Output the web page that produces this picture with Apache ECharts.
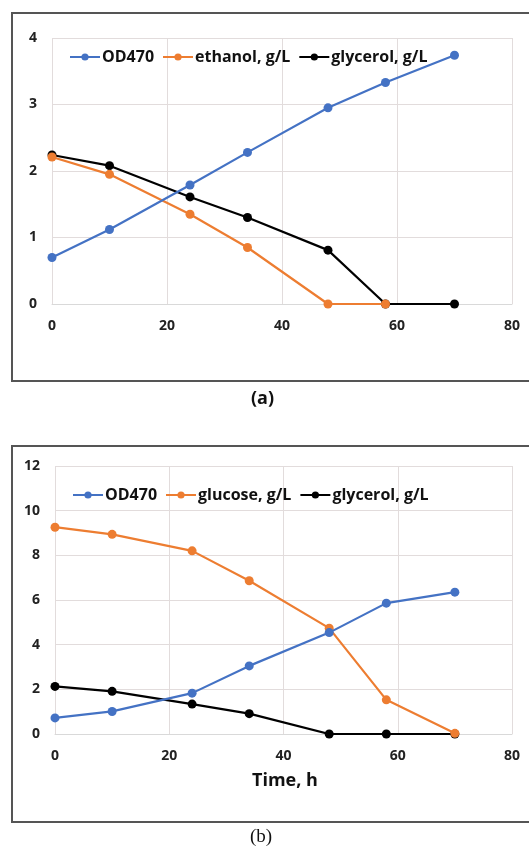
<!DOCTYPE html>
<html>
<head>
<meta charset="utf-8">
<script src="https://cdn.jsdelivr.net/npm/echarts@6/dist/echarts.min.js"></script>
<style>
html,body{margin:0;padding:0;background:#fff;}
#c{width:529px;height:854px;}
</style>
</head>
<body>
<div id="c"></div>
<script>
var time = [0, 10, 24, 34, 48, 58, 70];
var xTicks = [0, 20, 40, 60, 80];
var odA = [0.70, 1.12, 1.79, 2.28, 2.95, 3.33, 3.74];
var ethanolA = [2.21, 1.95, 1.35, 0.85, 0, 0, null];
var glycerolA = [2.24, 2.08, 1.61, 1.30, 0.81, 0, 0];
var odB = [0.72, 1.01, 1.83, 3.05, 4.54, 5.86, 6.35];
var glucoseB = [9.26, 8.94, 8.20, 6.86, 4.74, 1.53, 0.03];
var glycerolB = [2.13, 1.91, 1.34, 0.91, 0, 0, 0];
var namesA = ['OD470', 'ethanol, g/L', 'glycerol, g/L'];
var namesB = ['OD470', 'glucose, g/L', 'glycerol, g/L'];
var colors = ['#4472C4', '#ED7D31', '#000000'];

function pairs(v) {
  var out = [];
  for (var i = 0; i < time.length; i++) { if (v[i] !== null) out.push([time[i], v[i]]); }
  return out;
}
var FONT = '"Open Sans", "DejaVu Sans", sans-serif';
function xAx(idx) {
  return {
    type: 'value', gridIndex: idx, min: 0, max: 80, interval: 20,
    axisLine: {show: true, lineStyle: {color: '#d9d9d9', width: 1}},
    axisTick: {show: false},
    splitLine: {show: true, lineStyle: {color: '#e2dcdc', width: 1}},
    axisLabel: {margin: 15, color: '#222', fontFamily: FONT, fontWeight: 'bold', fontSize: 14}
  };
}
function yAx(idx, max, interval) {
  return {
    type: 'value', gridIndex: idx, min: 0, max: max, interval: interval,
    axisLine: {show: false}, axisTick: {show: false},
    splitLine: {show: true, lineStyle: {color: '#e2dcdc', width: 1}},
    axisLabel: {margin: 15, color: '#222', fontFamily: FONT, fontWeight: 'bold', fontSize: 14}
  };
}
function ser(name, data, ci, gi) {
  return {
    type: 'line', name: name, data: pairs(data), xAxisIndex: gi, yAxisIndex: gi,
    symbol: 'circle', symbolSize: 9, color: colors[ci],
    lineStyle: {width: 2.2, color: colors[ci]}, itemStyle: {color: colors[ci]},
    z: 3 + (2 - ci)
  };
}
var legText = {fontFamily: FONT, fontWeight: 'bold', fontSize: 16, color: '#111', padding: [0, 0, 0, -3]};
var chart = echarts.init(document.getElementById('c'));
chart.setOption({
  animation: false,
  grid: [
    {left: 52, top: 38, width: 460, height: 266},
    {left: 55, top: 466, width: 457, height: 268}
  ],
  xAxis: [xAx(0), xAx(1)],
  yAxis: [yAx(0, 4, 1), yAx(1, 12, 2)],
  legend: [
    {data: namesA, left: 64, top: 44, itemWidth: 30, itemHeight: 9, itemGap: 8, textStyle: legText},
    {data: namesB, left: 67, top: 482, itemWidth: 30, itemHeight: 9, itemGap: 8, textStyle: legText}
  ],
  series: [
    ser(namesA[0], odA, 0, 0),
    ser(namesA[1], ethanolA, 1, 0),
    ser(namesA[2], glycerolA, 2, 0),
    ser(namesB[0], odB, 0, 1),
    ser(namesB[1], glucoseB, 1, 1),
    ser(namesB[2], glycerolB, 2, 1)
  ],
  graphic: [
    {type: 'polyline', shape: {points: [[529, 13], [12, 13], [12, 381], [529, 381]]}, style: {stroke: '#555', lineWidth: 2, fill: null}},
    {type: 'polyline', shape: {points: [[529, 446], [12, 446], [12, 822], [529, 822]]}, style: {stroke: '#555', lineWidth: 2, fill: null}},
    {type: 'text', left: 251, top: 390, style: {text: '(a)', font: 'bold 18px "Open Sans", sans-serif', fill: '#111'}},
    {type: 'text', left: 250, top: 828, style: {text: '(b)', font: '19px "Liberation Serif", serif', fill: '#111'}},
    {type: 'text', left: 252, top: 772, style: {text: 'Time, h', font: 'bold 18px "Open Sans", sans-serif', fill: '#111'}}
  ]
});
</script>
</body>
</html>
